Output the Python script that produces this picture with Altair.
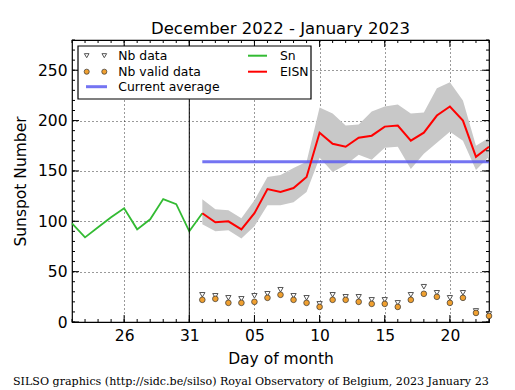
import altair as alt
import pandas as pd

# ---------------- data ----------------
sn_dates = ["2022-12-22", "2022-12-23", "2022-12-24", "2022-12-25", "2022-12-26",
            "2022-12-27", "2022-12-28", "2022-12-29", "2022-12-30", "2022-12-31",
            "2023-01-01"]
sn_values = [98, 84, 94, 104, 113, 92, 102, 122, 117, 90, 108]

eisn_dates = ["2023-01-01", "2023-01-02", "2023-01-03", "2023-01-04", "2023-01-05",
              "2023-01-06", "2023-01-07", "2023-01-08", "2023-01-09", "2023-01-10",
              "2023-01-11", "2023-01-12", "2023-01-13", "2023-01-14", "2023-01-15",
              "2023-01-16", "2023-01-17", "2023-01-18", "2023-01-19", "2023-01-20",
              "2023-01-21", "2023-01-22", "2023-01-23"]
eisn_values = [108, 99, 100, 92, 108, 132, 129, 133, 144, 188, 177, 174, 183, 185,
               194, 195, 180, 188, 205, 214, 200, 164, 174]
eisn_upper = [122, 112, 111, 103, 121, 144, 146, 153, 159, 213, 207, 195, 196, 209,
              214, 216, 207, 208, 232, 238, 220, 175, 183]
eisn_lower = [97, 90, 91, 83, 95, 116, 116, 119, 129, 163, 149, 156, 166, 161,
              173, 174, 152, 167, 178, 189, 180, 151, 164]
nb_data = [27, 26, 24, 23, 26, 28, 32, 26, 24, 18, 27, 25, 25, 22, 22, 19, 27, 35,
           29, 24, 29, 11, 8]
nb_valid = [22, 23, 19, 19, 20, 24, 27, 22, 19, 15, 22, 22, 20, 18, 18, 15, 22, 28,
            25, 19, 24, 9, 6]

current_average = 159
avg_start, avg_end = "2023-01-01", "2023-01-23"
month_boundary = "2022-12-31"

x_tick_days = [26, 31, 5, 10, 15, 20]
x_tick_months = [12, 12, 1, 1, 1, 1]
x_tick_years = [2022, 2022, 2023, 2023, 2023, 2023]
y_ticks = [0, 50, 100, 150, 200, 250]
y_minor = list(range(0, 281, 10))
all_days = pd.date_range("2022-12-22", "2023-01-23", freq="D").strftime("%Y-%m-%d").tolist()
major_days = ["2022-12-26", "2022-12-31", "2023-01-05", "2023-01-10", "2023-01-15", "2023-01-20"]

title_text = "December 2022 - January 2023"
footer_text = "SILSO graphics (http://sidc.be/silso) Royal Observatory of Belgium, 2023 January 23"

# ---------------- frames ----------------
sn_df = pd.DataFrame({"date": sn_dates, "value": sn_values})
eisn_df = pd.DataFrame({"date": eisn_dates, "value": eisn_values,
                        "upper": eisn_upper, "lower": eisn_lower,
                        "nb": nb_data, "nbv": nb_valid})
avg_df = pd.DataFrame({"date": [avg_start], "date2": [avg_end], "value": [current_average]})
vline_df = pd.DataFrame({"date": [month_boundary]})
days_df = pd.DataFrame({"date": all_days})
major_df = pd.DataFrame({"date": major_days})
ymin_df = pd.DataFrame({"v": y_minor})
ymaj_df = pd.DataFrame({"v": y_ticks})
one = pd.DataFrame({"k": [0]})

W, H = 417, 282
FONT = "DejaVu Sans"

x_values = [alt.DateTime(year=y, month=m, date=d, utc=True)
            for y, m, d in zip(x_tick_years, x_tick_months, x_tick_days)]
x_scale = alt.Scale(type="utc",
                    domain=[alt.DateTime(year=2022, month=12, date=22, utc=True),
                            alt.DateTime(year=2023, month=1, date=23, utc=True)])
x_axis = alt.Axis(values=x_values, format="%d", grid=True, gridDash=[1, 3],
                  gridColor="black", gridWidth=0.8, ticks=False, domain=False,
                  labelPadding=6, labelFontSize=15.5, titleFontSize=15.5,
                  titleFontWeight="normal", titlePadding=8, labelColor="black",
                  titleColor="black", labelFlush=False)
y_scale = alt.Scale(domain=[0, 280], nice=False, zero=True)
y_axis = alt.Axis(values=y_ticks, grid=True, gridDash=[1, 3], gridColor="black",
                  gridWidth=0.8, ticks=False, domain=False, labelPadding=5,
                  labelFontSize=15.5, titleFontSize=15.5, titleFontWeight="normal",
                  titlePadding=9, labelColor="black", titleColor="black")


def X(field="date"):
    return alt.X(f"{field}:T", scale=x_scale, axis=x_axis, title="Day of month")


def Y(field):
    return alt.Y(f"{field}:Q", scale=y_scale, axis=y_axis, title="Sunspot Number")


layers = []

band = alt.Chart(eisn_df).mark_area(color="#c8c8c8", opacity=1).encode(
    x=X(), y=Y("lower"), y2=alt.Y2("upper"))
layers.append(band)

avg = alt.Chart(avg_df).mark_rule(color="#5c5cf0", strokeWidth=3, opacity=0.85).encode(
    x=X(), x2=alt.X2("date2"), y=Y("value"))
layers.append(avg)

sn = alt.Chart(sn_df).mark_line(color="#33bb33", strokeWidth=1.8).encode(x=X(), y=Y("value"))
layers.append(sn)

eisn = alt.Chart(eisn_df).mark_line(color="#ff0000", strokeWidth=2).encode(x=X(), y=Y("value"))
layers.append(eisn)

vline = alt.Chart(vline_df).mark_rule(color="black", strokeWidth=1).encode(
    x=X(), y=alt.value(0), y2=alt.value(H))
layers.append(vline)

tri = alt.Chart(eisn_df).mark_point(shape="triangle-down", size=28, fill="white",
                                     filled=True, stroke="#555555", strokeWidth=1,
                                     opacity=1).encode(x=X(), y=Y("nb"))
layers.append(tri)

circ = alt.Chart(eisn_df).mark_point(shape="circle", size=32, filled=True, fill="#f0a030",
                                      stroke="#333333", strokeWidth=0.7,
                                      opacity=1).encode(x=X(), y=Y("nbv"))
layers.append(circ)

# inward ticks (matplotlib classic style)
for df, ln in ((days_df, 3), (major_df, 7)):
    layers.append(alt.Chart(df).mark_rule(color="black", strokeWidth=1).encode(
        x=X(), y=alt.value(H), y2=alt.value(H - ln)))
    layers.append(alt.Chart(df).mark_rule(color="black", strokeWidth=1).encode(
        x=X(), y=alt.value(0), y2=alt.value(ln)))
for df, ln in ((ymin_df, 3), (ymaj_df, 7)):
    layers.append(alt.Chart(df).mark_rule(color="black", strokeWidth=1).encode(
        y=Y("v"), x=alt.value(0), x2=alt.value(ln)))
    layers.append(alt.Chart(df).mark_rule(color="black", strokeWidth=1).encode(
        y=Y("v"), x=alt.value(W), x2=alt.value(W - ln)))

# legend box
layers.append(alt.Chart(one).mark_rect(fill="white", stroke="black", strokeWidth=1.2).encode(
    x=alt.value(6), x2=alt.value(239), y=alt.value(6), y2=alt.value(59)))

row_y = [15.7, 31.7, 46.7]
for sx in (14.7, 32.3):
    layers.append(alt.Chart(one).mark_point(shape="triangle-down", size=22, filled=True,
                                            fill="white", stroke="#555555", strokeWidth=1,
                                            opacity=1).encode(
        x=alt.value(sx), y=alt.value(row_y[0])))
    layers.append(alt.Chart(one).mark_point(shape="circle", size=26, filled=True,
                                            fill="#f0a030", stroke="#333333",
                                            strokeWidth=0.7, opacity=1).encode(
        x=alt.value(sx), y=alt.value(row_y[1])))
layers.append(alt.Chart(one).mark_rule(color="#5c5cf0", strokeWidth=3, opacity=0.85).encode(
    x=alt.value(14), x2=alt.value(35), y=alt.value(row_y[2])))
layers.append(alt.Chart(one).mark_rule(color="#33bb33", strokeWidth=2).encode(
    x=alt.value(176), x2=alt.value(195), y=alt.value(row_y[0])))
layers.append(alt.Chart(one).mark_rule(color="#ff0000", strokeWidth=2).encode(
    x=alt.value(176), x2=alt.value(195), y=alt.value(row_y[1])))

legend_items = [("Nb data", 46.3, row_y[0]), ("Nb valid data", 46.3, row_y[1]),
                ("Current average", 46.3, row_y[2]), ("Sn", 208, row_y[0]),
                ("EISN", 208, row_y[1])]
for label, lx, ly in legend_items:
    layers.append(alt.Chart(one).mark_text(align="left", baseline="middle", fontSize=12.4,
                                           font=FONT, color="black").encode(
        x=alt.value(lx), y=alt.value(ly), text=alt.value(label)))

# footer
layers.append(alt.Chart(one).mark_text(align="left", baseline="alphabetic", fontSize=11.1,
                                       font="DejaVu Serif", color="black").encode(
    x=alt.value(-59), y=alt.value(345), text=alt.value(footer_text)))

chart = alt.layer(*layers).properties(
    width=W, height=H,
    title=alt.TitleParams(title_text, fontSize=16.5, fontWeight="normal", font=FONT,
                          color="black", offset=2, anchor="middle"),
    autosize=alt.AutoSizeParams(type="none"),
    padding={"left": 64, "top": 32, "right": 18, "bottom": 66},
).configure(font=FONT).configure_view(stroke="black", strokeWidth=1.2)

chart.save("out.html", embed_options={"renderer": "svg", "actions": False})
